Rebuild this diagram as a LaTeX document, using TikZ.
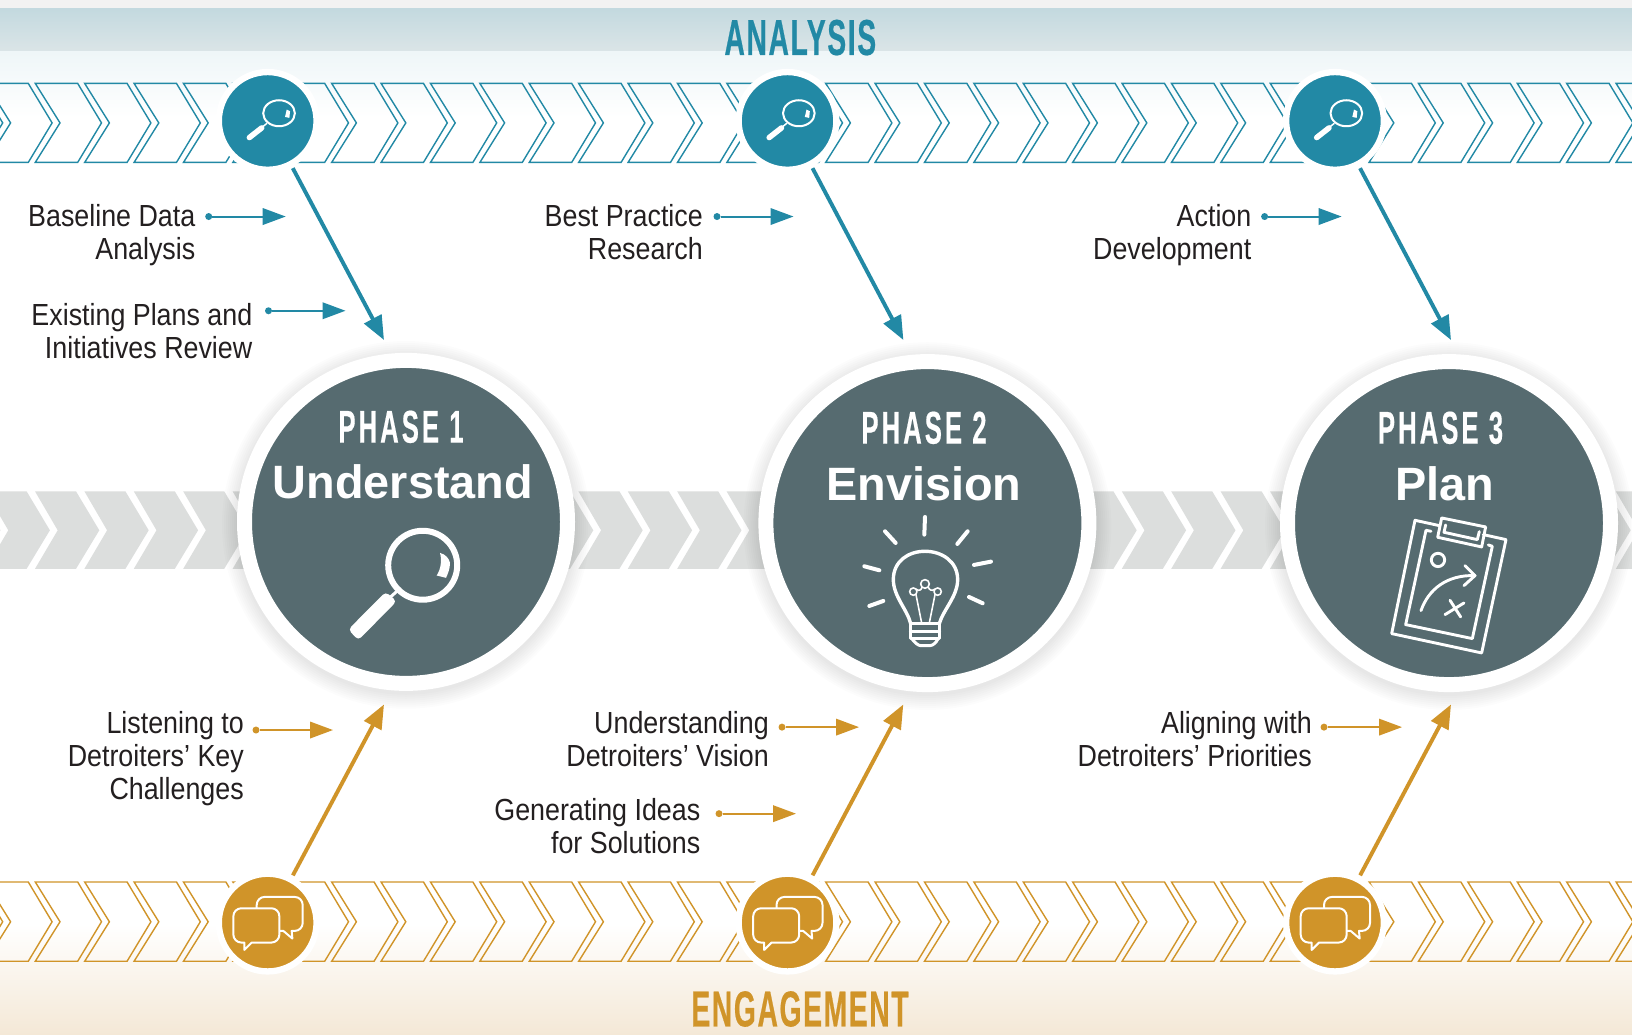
\documentclass[tikz,border=0pt]{standalone}
\usepackage{fontspec}
\usetikzlibrary{arrows.meta}
\setmainfont{Liberation Sans}
\newfontfamily\labelf[FakeStretch=0.88]{Liberation Sans}
\newfontfamily\headf[FakeStretch=0.56,FakeBold=0.4,LetterSpace=3.2]{Liberation Sans Bold}
\newfontfamily\phasef[FakeStretch=0.56,FakeBold=0.3,LetterSpace=6.5]{Liberation Sans Bold}
\newfontfamily\titlef{Liberation Sans Bold}
\definecolor{tealc}{HTML}{2289A5}
\definecolor{goldc}{HTML}{D09429}
\definecolor{slatec}{HTML}{566B70}
\definecolor{inkc}{HTML}{231F20}
\definecolor{greyc}{HTML}{DCDEDD}
\definecolor{c0}{HTML}{F2F2F2}
\definecolor{c1}{HTML}{C3D9DF}
\definecolor{c2}{HTML}{DBE5E7}
\definecolor{c3}{HTML}{EFF6F8}
\definecolor{c4}{HTML}{F4E8D6}
\tikzset{
  phasecirc/.style={circle,draw=white,fill=slatec,line width=15bp,minimum size=323bp,inner sep=0pt},
  smallcirc/.style={circle,draw=white,line width=6.3bp,minimum size=97.7bp,inner sep=0pt},
  lab/.style={text=inkc,inner sep=0pt,align=right,anchor=base east,font=\labelf\fontsize{30.5bp}{33bp}\selectfont},
  dotn/.style={circle,inner sep=0pt,minimum size=7bp,fill=#1},
  small arrow/.style={draw=#1,line width=2bp,-{Triangle[length=23bp,width=16.5bp,fill=#1]}},
  long arrow/.style={draw=#1,line width=3.9bp,shorten <=1.5bp,-{Triangle[length=24bp,width=19bp,fill=#1]}},
  heading/.style={inner sep=0pt,anchor=base,font=\headf\fontsize{50.5bp}{50bp}\selectfont},
  phasehead/.style={text=white,inner sep=0pt,anchor=base,font=\phasef\fontsize{46bp}{46bp}\selectfont},
  phasename/.style={text=white,inner sep=0pt,anchor=base,font=\titlef\fontsize{46.8bp}{47bp}\selectfont},
  ico/.style={draw=white,line cap=round,line join=round},
}
\newcommand{\chevrons}[4]{%
  \foreach \k in {-2,...,33}{
    \pgfmathsetmacro{\xo}{35.3+49.4*\k}
    \draw[draw=#1,line width=1.4bp,miter limit=4]
      (\xo,#2) -- (\xo+42.4,#2) -- (\xo+66.2,#3) -- (\xo+42.4,#4) -- (\xo,#4) -- (\xo+24.7,#3) -- cycle;
  }}
\newcommand{\bigshadow}[2]{%
  \foreach \r in {170,172,...,184}{
    \fill[black,opacity=0.010] (#1,#2+3) circle [radius=\r];
  }}
\newcommand{\smallglass}[2]{%
  \begin{scope}[shift={(#1,#2)},x=0.3333bp,y=-0.3333bp]
    \draw[ico,line width=2bp] (34,-23) ellipse [x radius=47.5,y radius=39];
    \draw[ico,line width=1.5bp] (-3,8) -- (-18,20);
    \draw[ico,line width=5.5bp] (-55,50) -- (-18,21);
    \fill[white] (57,-34) -- (67,-29) -- (65,-9) -- (52,-12) -- cycle;
  \end{scope}}
\newcommand{\bubbles}[2]{%
  \begin{scope}[shift={(#1,#2)},x=0.3333bp,y=-0.3333bp]
    \draw[draw=white,line width=2bp,line join=round] (47,25) -- (74,48) -- (72,25)
      [rounded corners=8bp] -- (105,25) -- (105,-77) -- (-33,-77) -- (-33,25) [sharp corners] -- cycle;
    \draw[draw=white,fill=goldc,line width=2bp,line join=round] (-70,60) -- (-70,82) -- (-48,60)
      [rounded corners=8bp] -- (35,60) -- (35,-43) -- (-103,-43) -- (-103,60) [sharp corners] -- cycle;
  \end{scope}}
\begin{document}
\begin{tikzpicture}[x=1bp,y=-0.9992bp]
\path[use as bounding box] (0,0) rectangle (1632,1035.2);
\clip (0,0) rectangle (1632,1035.2);
\fill[white] (0,0) rectangle (1632,1036);
% backgrounds
\fill[c0] (0,0) rectangle (1632,8.3);
\shade[top color=c1,bottom color=c2] (0,8.3) rectangle (1632,52);
\shade[top color=c3,bottom color=white] (0,52) rectangle (1632,118);
\shade[top color=white,bottom color=c4] (0,925) rectangle (1632,1036);
% chevron bands
\chevrons{tealc}{83.5}{123}{162.5}
\chevrons{goldc}{882.7}{922.5}{962}
\foreach \k in {-2,...,33}{
  \pgfmathsetmacro{\xo}{35+49.4*\k}
  \fill[greyc] (\xo,491.7) -- (\xo+41,491.7) -- (\xo+64.3,530.7) -- (\xo+41,569.3) -- (\xo,569.3) -- (\xo+22.7,530.7) -- cycle;
}
% shadows of the phase circles
\bigshadow{406}{522.3}
\bigshadow{927.4}{523.5}
\bigshadow{1449}{523.5}
% phase circles
\node[phasecirc] (p1) at (406,522.3) {};
\node[phasecirc] (p2) at (927.4,523.5) {};
\node[phasecirc] (p3) at (1449,523.5) {};
% small circles
\node[smallcirc,fill=tealc] (s1) at (267.7,121) {};
\node[smallcirc,fill=tealc] (s2) at (787.5,121) {};
\node[smallcirc,fill=tealc] (s3) at (1335,121) {};
\node[smallcirc,fill=goldc] (g1) at (267.7,923.3) {};
\node[smallcirc,fill=goldc] (g2) at (787.5,923.3) {};
\node[smallcirc,fill=goldc] (g3) at (1335,923.3) {};
\smallglass{267.7}{121}
\smallglass{787.5}{121}
\smallglass{1335}{121}
\bubbles{267.7}{923.3}
\bubbles{787.5}{923.3}
\bubbles{1335}{923.3}
% headings
\node[heading,text=tealc] (hA) at (800.3,55) {ANALYSIS};
\node[heading,text=goldc] (hE) at (800,1027.2) {ENGAGEMENT};
\node[phasehead] (t1a) at (401,443) {PHASE 1};
\node[phasename] (t1b) at (403,499.3) {Understand};
\node[phasehead] (t2a) at (924,444) {PHASE 2};
\node[phasename] (t2b) at (924,500.5) {Envision};
\node[phasehead] (t3a) at (1440.5,444) {PHASE 3};
\node[phasename] (t3b) at (1444.6,500.5) {Plan};
% labels
\node[lab] (l1) at (195.5,260.2) {Baseline Data\\Analysis};
\node[lab] (l2) at (252.5,359.2) {Existing Plans and\\Initiatives Review};
\node[lab] (l3) at (703,260.2) {Best Practice\\Research};
\node[lab] (l4) at (1251.5,260.2) {Action\\Development};
\node[lab] (l5) at (244,800.4) {Listening to\\Detroiters’ Key\\Challenges};
\node[lab] (l6) at (769,767.4) {Understanding\\Detroiters’ Vision};
\node[lab] (l7) at (700.5,854.2) {Generating Ideas\\for Solutions};
\node[lab] (l8) at (1312,767.4) {Aligning with\\Detroiters’ Priorities};
% small arrows
\node[dotn=tealc] (d1) at (208.7,216.7) {};
\node[dotn=tealc] (d2) at (268.5,311) {};
\node[dotn=tealc] (d3) at (717,216.7) {};
\node[dotn=tealc] (d4) at (1264.6,216.7) {};
\node[dotn=goldc] (d5) at (256,730.6) {};
\node[dotn=goldc] (d6) at (782,727.7) {};
\node[dotn=goldc] (d7) at (719,814.3) {};
\node[dotn=goldc] (d8) at (1324,727.7) {};
\coordinate (e1) at (285.7,216.7);
\coordinate (e2) at (345.5,311);
\coordinate (e3) at (793.5,216.7);
\coordinate (e4) at (1341.6,216.7);
\coordinate (e5) at (333,730.6);
\coordinate (e6) at (859,727.7);
\coordinate (e7) at (796,814.3);
\coordinate (e8) at (1402,727.7);
\draw[small arrow=tealc] (d1) -- (e1);
\draw[small arrow=tealc] (d2) -- (e2);
\draw[small arrow=tealc] (d3) -- (e3);
\draw[small arrow=tealc] (d4) -- (e4);
\draw[small arrow=goldc] (d5) -- (e5);
\draw[small arrow=goldc] (d6) -- (e6);
\draw[small arrow=goldc] (d7) -- (e7);
\draw[small arrow=goldc] (d8) -- (e8);
% long arrows
\coordinate (tt1) at (384,340.3);
\coordinate (tt2) at (903.4,340.3);
\coordinate (tt3) at (1451,340.3);
\coordinate (tg1) at (384,705);
\coordinate (tg2) at (903.3,705);
\coordinate (tg3) at (1451,705);
\draw[long arrow=tealc] (s1) -- (tt1);
\draw[long arrow=tealc] (s2) -- (tt2);
\draw[long arrow=tealc] (s3) -- (tt3);
\draw[long arrow=goldc] (g1) -- (tg1);
\draw[long arrow=goldc] (g2) -- (tg2);
\draw[long arrow=goldc] (g3) -- (tg3);
% big magnifier
\draw[ico,line width=6bp] (422.7,565.7) circle [radius=34.5];
\fill[white,rounded corners=4bp] (385.7,592.3) -- (396.7,601.7) -- (358.3,640.7) -- (348.3,630) -- cycle;
\draw[ico,line width=3bp] (391,597) -- (400,589);
\fill[white] (440,553.3) .. controls (446,555) and (449,559) .. (450,563.3) .. controls (450,569) and (448,574) .. (446,578.3) -- (436.7,576) .. controls (441,569) and (442,561) .. (440,553.3) -- cycle;
% bulb
\begin{scope}[shift={(800,480)},x=0.3333bp,y=-0.3333bp]
  \draw[ico,line width=4bp] (375,112) -- (373,165);
  \draw[ico,line width=4bp] (255,155) -- (287,190);
  \draw[ico,line width=4bp] (503,155) -- (472,193);
  \draw[ico,line width=4bp] (193,260) -- (238,272);
  \draw[ico,line width=4bp] (573,246) -- (522,256);
  \draw[ico,line width=4bp] (208,379) -- (250,364);
  \draw[ico,line width=4bp] (548,371) -- (507,352);
  \draw[ico,line width=3.4bp] (332,432) .. controls (322,390) and (280,350) .. (280,300) .. controls (280,245) and (325,215) .. (375,215) .. controls (425,215) and (473,245) .. (473,300) .. controls (473,350) and (430,390) .. (418,432);
  \draw[ico,line width=3bp] (332,432) -- (418,432) -- (418,478) -- (332,478) -- cycle;
  \draw[ico,line width=3.5bp] (332,456) -- (418,456);
  \draw[ico,line width=3bp] (336,478) .. controls (345,490) and (355,498) .. (362,498) -- (390,498) .. controls (398,498) and (408,490) .. (414,478);
  \draw[ico,line width=1.6bp] (375,313) circle [radius=13];
  \draw[ico,line width=1.6bp] (340,336) circle [radius=11];
  \draw[ico,line width=1.6bp] (413,336) circle [radius=11];
  \draw[ico,line width=1.6bp] (348,345) -- (365,430);
  \draw[ico,line width=1.6bp] (405,345) -- (388,430);
  \draw[ico,line width=1.6bp] (349,329) .. controls (356,335) and (364,332) .. (366,323);
  \draw[ico,line width=1.6bp] (404,329) .. controls (397,335) and (388,332) .. (385,323);
\end{scope}
% clipboard
\begin{scope}[shift={(1340,490)},x=0.3333bp,y=-0.3333bp]
  \draw[ico,line width=2.9bp] (298,108) -- (225,92) -- (155,432) -- (425,490) -- (498,150) -- (430,135);
  \draw[ico,line width=2.9bp] (305,85) -- (437,112) -- (425,172) -- (293,143) -- cycle;
  \draw[ico,line width=2.9bp] (317,106) -- (312,128) -- (412,150) -- (418,126);
  \draw[ico,line width=2.9bp] (273,125) -- (258,122) -- (197,405) -- (397,447) -- (457,170) -- (445,166);
  \draw[ico,line width=2.9bp] (294,211) circle [radius=20];
  \draw[ico,line width=2.9bp] (243,363) .. controls (265,300) and (320,255) .. (405,258);
  \draw[ico,line width=2.9bp] (375,228) -- (405,258) -- (372,288);
  \draw[ico,line width=2.9bp] (330,332) -- (362,382);
  \draw[ico,line width=2.9bp] (315,375) -- (372,340);
\end{scope}
\end{tikzpicture}
\end{document}
